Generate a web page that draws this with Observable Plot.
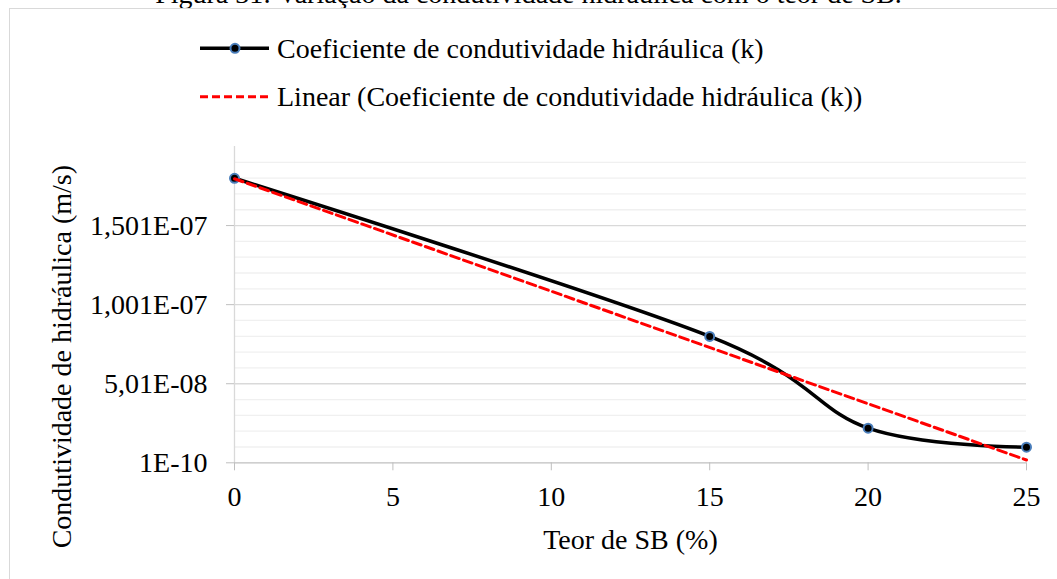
<!DOCTYPE html>
<html>
<head>
<meta charset="utf-8">
<script src="https://cdn.jsdelivr.net/npm/d3@7"></script>
<script src="https://cdn.jsdelivr.net/npm/@observablehq/plot@0.6"></script>
<style>
  html, body { margin: 0; padding: 0; background: #fff; }
  #wrap { position: relative; width: 1057px; height: 579px; overflow: hidden; background: #fff;
          font-family: "Liberation Serif", "Times New Roman", serif; color: #000; }
  #title { position: absolute; left: 0; top: -20px; width: 1057px; text-align: center;
           font-family: "Liberation Serif", "Times New Roman", serif;
           font-size: 28px; line-height: 28px; white-space: nowrap; }
  #frame { position: absolute; left: 9px; top: 8px; width: 1200px; height: 800px; border: 1px solid #d9d9d9; }
  #legend { position: relative; height: 130px; }
  .lg-row { position: absolute; left: 195px; height: 28px; }
  .lg-row svg { position: absolute; left: 0; top: 0; }
  .lg-text { position: absolute; left: 82px; top: 0; font-family: "Liberation Serif", "Times New Roman", serif;
             font-size: 28px; line-height: 28px; white-space: nowrap; }
  #chart { position: relative; }
</style>
</head>
<body>
<div id="wrap">
  <div id="title">Figura 31: Variação da condutividade hidráulica com o teor de SB.</div>
  <div id="frame"></div>
  <div id="legend"></div>
  <div id="chart"></div>
</div>
<script>
// ---- data ----
const teor = [0, 15, 20, 25];
const condutividade = [1.8e-7, 8.0e-8, 2.2e-8, 1.0e-8];
const xTicks = [0, 5, 10, 15, 20, 25];
const yTickValues = [1e-10, 5.01e-8, 1.001e-7, 1.501e-7];
const yTickLabels = ["1E-10", "5,01E-08", "1,001E-07", "1,501E-07"];
const yMinorValues = [1.01e-8, 2.01e-8, 3.01e-8, 4.01e-8, 6.01e-8, 7.01e-8, 8.01e-8, 9.01e-8,
                      1.101e-7, 1.201e-7, 1.301e-7, 1.401e-7, 1.601e-7, 1.701e-7, 1.801e-7, 1.901e-7];
const yDomain = [1e-10, 2.001e-7];
const xDomain = [0, 25];
const legendLabels = ["Coeficiente de condutividade hidráulica (k)",
                      "Linear (Coeficiente de condutividade hidráulica (k))"];
const xLabel = "Teor de SB (%)";
const yLabel = "Condutividade de hidráulica (m/s)";

const data = teor.map((t, i) => ({teor: t, k: condutividade[i]}));

// ---- legend ----
const legend = document.getElementById("legend");
const swatches = [
  `<svg width="80" height="28"><line x1="5" x2="74" y1="13.3" y2="13.3" stroke="#000" stroke-width="3.5"/>
     <circle cx="40" cy="13.3" r="4.5" fill="#000" stroke="#4a7ebb" stroke-width="2"/></svg>`,
  `<svg width="80" height="28"><line x1="5" x2="74" y1="13.7" y2="13.7" stroke="#ff0000" stroke-width="3" stroke-dasharray="8,4"/></svg>`
];
const rowTops = [35, 83];
legendLabels.forEach((lab, i) => {
  const row = document.createElement("div");
  row.className = "lg-row";
  row.style.top = rowTops[i] + "px";
  row.innerHTML = swatches[i] + `<span class="lg-text"></span>`;
  row.querySelector(".lg-text").textContent = lab;
  legend.appendChild(row);
});

// ---- chart ----
const chart = Plot.plot({
  width: 1057,
  height: 449,
  marginLeft: 234,
  marginRight: 31,
  marginTop: 16,
  marginBottom: 116.7,
  style: {fontFamily: "'Liberation Serif', 'Times New Roman', serif", fontSize: "28px", color: "#000", background: "transparent", overflow: "visible"},
  x: {domain: xDomain},
  y: {domain: yDomain},
  marks: [
    Plot.ruleY(yMinorValues, {stroke: "#f0f0f0", strokeWidth: 1.3}),
    Plot.ruleY(yTickValues.slice(1), {stroke: "#d9d9d9", strokeWidth: 1.3}),
    Plot.ruleX([0], {y1: yDomain[0], y2: yDomain[1], stroke: "#d9d9d9", strokeWidth: 1.3}),
    Plot.ruleY([yDomain[0]], {stroke: "#bfbfbf", strokeWidth: 1.3}),
    Plot.axisX({ticks: xTicks, tickSize: 8, tickPadding: 15, stroke: "#bfbfbf", fill: "#000",
                tickFormat: d => String(d), label: xLabel, labelAnchor: "center", labelArrow: "none", labelOffset: 86}),
    Plot.axisY({ticks: yTickValues, tickSize: 8, tickPadding: 19, stroke: "#bfbfbf", fill: "#000",
                tickFormat: d => yTickLabels[yTickValues.indexOf(d)], label: null}),
    Plot.text([yLabel], {frameAnchor: "left", rotate: -90, textAnchor: "middle", lineAnchor: "middle",
                         dx: -172, dy: 52, fill: "#000", fontSize: 28}),
    Plot.line(data, {x: "teor", y: "k", curve: "cardinal", stroke: "#000", strokeWidth: 3.5}),
    Plot.dot(data, {x: "teor", y: "k", r: 4.5, fill: "#000", stroke: "#4a7ebb", strokeWidth: 2}),
    Plot.linearRegressionY(data, {x: "teor", y: "k", ci: 0, stroke: "#ff0000", strokeWidth: 3, strokeDasharray: "9,4.5"})
  ]
});
document.getElementById("chart").appendChild(chart);
</script>
</body>
</html>
